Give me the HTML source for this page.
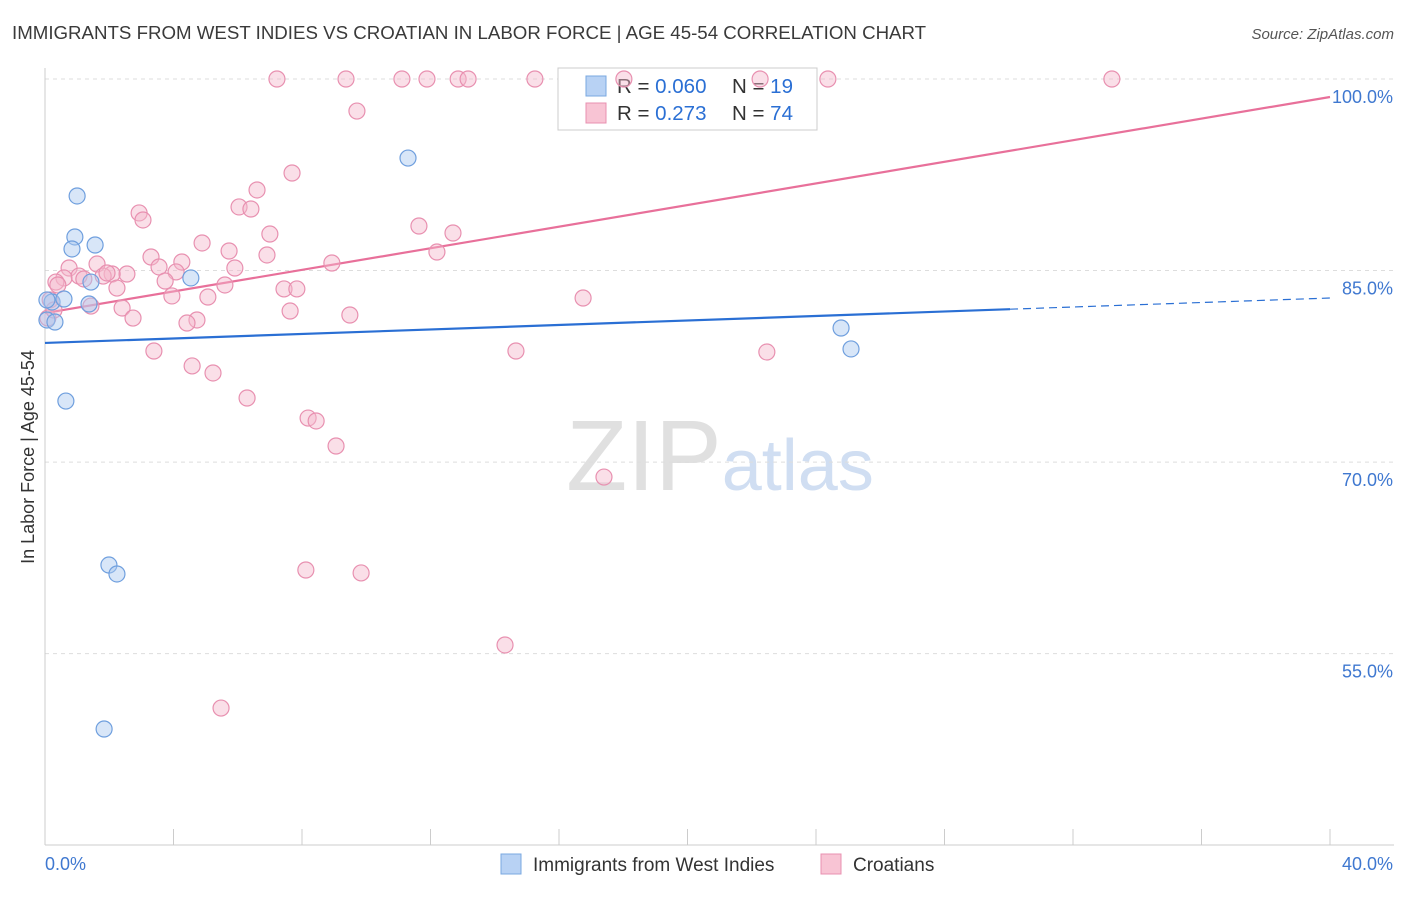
<!DOCTYPE html>
<html><head><meta charset="utf-8"><style>
body{margin:0;background:#fff;font-family:"Liberation Sans",sans-serif;}
svg text{font-family:"Liberation Sans",sans-serif;}
</style></head><body>
<svg id="chart" width="1406" height="892" xmlns="http://www.w3.org/2000/svg">
<text x="12" y="39" font-size="18.7" fill="#3a3a3a">IMMIGRANTS FROM WEST INDIES VS CROATIAN IN LABOR FORCE | AGE 45-54 CORRELATION CHART</text>
<text x="1394" y="39" font-size="15" fill="#555" font-style="italic" text-anchor="end">Source: ZipAtlas.com</text>
<text x="720" y="490" font-size="100" text-anchor="middle" font-family="Liberation Serif" fill="#e0e0e0">ZIP<tspan fill="#d0def2" font-family="Liberation Sans" font-size="72">atlas</tspan></text>
<text transform="translate(34,457) rotate(-90)" font-size="18" fill="#333" text-anchor="middle">In Labor Force | Age 45-54</text>
<g id="grid"></g><g id="axes"></g>
<g>
<rect x="558" y="68" width="259" height="62" fill="#fff" stroke="#ccc"/>
<rect x="586" y="76" width="20" height="20" fill="#b8d2f4" stroke="#7aa8e0"/>
<rect x="586" y="103" width="20" height="20" fill="#f8c4d4" stroke="#e890b0"/>
<text x="617" y="93" font-size="20.5" fill="#333">R = <tspan fill="#2a6fd4">0.060</tspan></text>
<text x="732" y="93" font-size="20.5" fill="#333">N = <tspan fill="#2a6fd4">19</tspan></text>
<text x="617" y="120" font-size="20.5" fill="#333">R = <tspan fill="#2a6fd4"> 0.273</tspan></text>
<text x="732" y="120" font-size="20.5" fill="#333">N = <tspan fill="#2a6fd4">74</tspan></text>
</g>
<g id="lines"></g><g id="pts"></g>
<g>
<rect x="501" y="854" width="20" height="20" fill="#b8d2f4" stroke="#7aa8e0"/>
<text x="533" y="871" font-size="19" fill="#333">Immigrants from West Indies</text>
<rect x="821" y="854" width="20" height="20" fill="#f8c4d4" stroke="#e890b0"/>
<text x="853" y="871" font-size="19" fill="#333">Croatians</text>
</g>
</svg>
<script>
const yTicks=[100,85,70,55];
const yTickLabels=["100.0%","85.0%","70.0%","55.0%"];
const xTickLabels=["0.0%","40.0%"];
const blueX=[0.06,0.31,0.22,0.59,1.0,0.93,0.84,1.56,1.43,1.37,0.65,1.99,2.24,1.84,4.54,11.3,24.78,25.09,0.06];
const blueY=[81.13,80.97,82.54,82.77,90.84,87.63,86.69,87.0,84.1,82.38,74.78,61.94,61.24,49.1,84.42,93.81,80.5,78.86,82.7];
const pinkX=[7.22,9.37,11.11,11.89,12.86,13.17,15.25,18.02,22.26,24.37,33.21,9.71,7.69,6.6,6.04,6.41,2.93,3.05,11.64,12.7,7.0,4.89,5.73,12.2,6.91,3.3,4.26,3.55,5.91,8.93,1.62,0.75,2.55,2.09,4.08,1.81,1.06,0.59,0.34,3.74,5.6,2.24,7.44,7.84,3.95,5.07,16.75,1.43,2.4,7.63,9.49,2.74,4.73,4.42,0.09,3.39,14.66,22.47,4.58,5.23,6.29,8.19,8.44,9.06,17.4,8.12,9.84,14.32,5.48,0.16,0.4,0.28,1.21,1.93];
const pinkY=[100,100,100,100,100,100,100,100,100,100,100,97.49,92.64,91.31,89.98,89.82,89.51,88.96,88.49,87.94,87.86,87.16,86.53,86.45,86.22,86.06,85.67,85.28,85.2,85.59,85.51,85.2,84.73,84.73,84.89,84.57,84.57,84.42,84.1,84.18,83.87,83.63,83.56,83.56,83.01,82.93,82.85,82.22,82.07,81.83,81.52,81.28,81.13,80.89,81.28,78.7,78.7,78.62,77.53,76.98,75.02,73.45,73.22,71.26,68.83,61.55,61.32,55.68,50.74,82.7,83.87,81.91,84.34,84.81];
const blueTrend=[79.33,0.088,30.04];
const pinkTrend=[81.67,0.423];
const NS="http://www.w3.org/2000/svg";
const X=v=>45+v*32.125, Y=v=>79+(100-v)*12.77;
function mk(t,a,p){const e=document.createElementNS(NS,t);for(const k in a)e.setAttribute(k,a[k]);document.getElementById(p).appendChild(e);return e;}
yTicks.forEach((t,i)=>{
 const g=mk('line',{x1:45,x2:1394,y1:Y(t),y2:Y(t),stroke:'#ddd','stroke-dasharray':'4,4'},'grid');
 
 
 const l=mk('text',{x:1393,y:Y(t)+24,'font-size':18,fill:'#3f78d0','text-anchor':'end'},'axes');
 l.textContent=yTickLabels[i];
 
 
});
let ax=mk('line',{x1:45,x2:45,y1:68,y2:845,stroke:'#ccc'},'axes');


ax=mk('line',{x1:45,x2:1394,y1:845,y2:845,stroke:'#ccc'},'axes');


for(let v=4;v<=40;v+=4){const t=mk('line',{x1:X(v),x2:X(v),y1:829,y2:845,stroke:'#ccc'},'axes');
 
 }
[[0,45,'start'],[40,1393,'end']].forEach((d,i)=>{const t=mk('text',{x:d[1],y:870,'font-size':18,fill:'#3f78d0','text-anchor':d[2]},'axes');t.textContent=xTickLabels[i];
 
 });
function pts(xs,ys,f,s,n){xs.forEach((x,i)=>{const c=mk('circle',{cx:X(x),cy:Y(ys[i]),r:8,fill:f,'fill-opacity':0.45,stroke:s,'stroke-width':1.2},'pts');
 
 });}
pts(pinkX,pinkY,'#f4b8cc','#e890b0','croatian-point');
pts(blueX,blueY,'#a8c8f0','#6f9fde','west-indies-point');
const bt=v=>blueTrend[0]+blueTrend[1]*v, pt=v=>pinkTrend[0]+pinkTrend[1]*v;
let l1=mk('line',{x1:X(0),y1:Y(bt(0)),x2:X(blueTrend[2]),y2:Y(bt(blueTrend[2])),stroke:'#2a6fd4','stroke-width':2.2},'lines');


let l2=mk('line',{x1:X(blueTrend[2]),y1:Y(bt(blueTrend[2])),x2:X(40),y2:Y(bt(40)),stroke:'#2a6fd4','stroke-width':1.2,'stroke-dasharray':'8,5'},'lines');


let l3=mk('line',{x1:X(0),y1:Y(pt(0)),x2:X(40),y2:Y(pt(40)),stroke:'#e8709a','stroke-width':2.2},'lines');


</script>
</body></html>
